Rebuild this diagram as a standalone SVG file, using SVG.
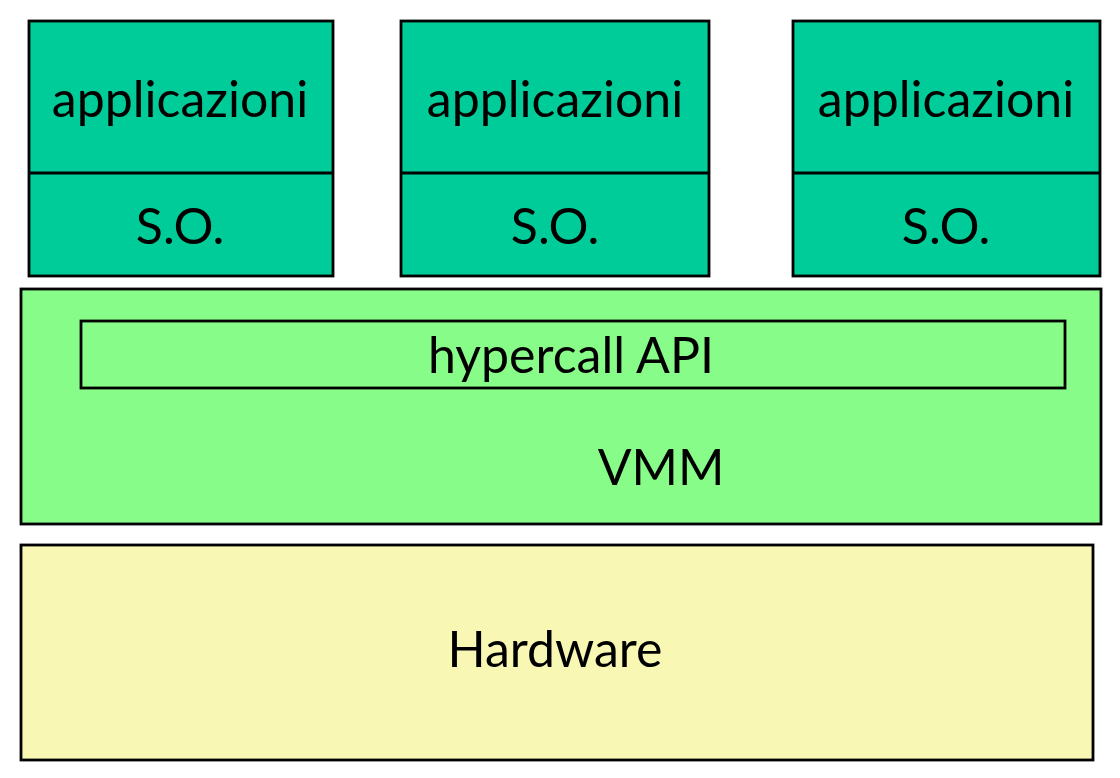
<svg xmlns="http://www.w3.org/2000/svg" width="1120" height="778" viewBox="0 0 1120 778">
<style>
rect{stroke:#000;stroke-width:2.8}
.vm{fill:#00CC99}
.vmm{fill:#88FC88}
.hw{fill:#F8F8B4}
text{font-family:Lato,"Open Sans","Liberation Sans",sans-serif;font-size:50px;fill:#000;text-anchor:middle}
</style>
<rect width="1120" height="778" fill="#fff" style="stroke:none"/>
<g id="vm1">
<rect class="vm" x="29" y="21" width="304" height="255"/>
<line x1="29" y1="173" x2="333" y2="173" stroke="#000" stroke-width="2.8"/>
<text x="180" y="117">applicazioni</text>
<text x="180" y="244">S.O.</text>
</g>
<g id="vm2">
<rect class="vm" x="401" y="21" width="308" height="255"/>
<line x1="401" y1="173" x2="709" y2="173" stroke="#000" stroke-width="2.8"/>
<text x="555" y="117">applicazioni</text>
<text x="555" y="244">S.O.</text>
</g>
<g id="vm3">
<rect class="vm" x="793" y="21" width="307" height="255"/>
<line x1="793" y1="173" x2="1100" y2="173" stroke="#000" stroke-width="2.8"/>
<text x="946" y="117">applicazioni</text>
<text x="946" y="244">S.O.</text>
</g>
<g id="vmm">
<rect class="vmm" x="21" y="289" width="1080" height="235"/>
<text x="661" y="485">VMM</text>
</g>
<g id="hypercall">
<rect class="vmm" x="81" y="321" width="984" height="67"/>
<text x="571" y="373">hypercall API</text>
</g>
<g id="hardware">
<rect class="hw" x="21" y="545" width="1072" height="215"/>
<text x="555" y="667">Hardware</text>
</g>
<g id="connectors"></g>
</svg>
